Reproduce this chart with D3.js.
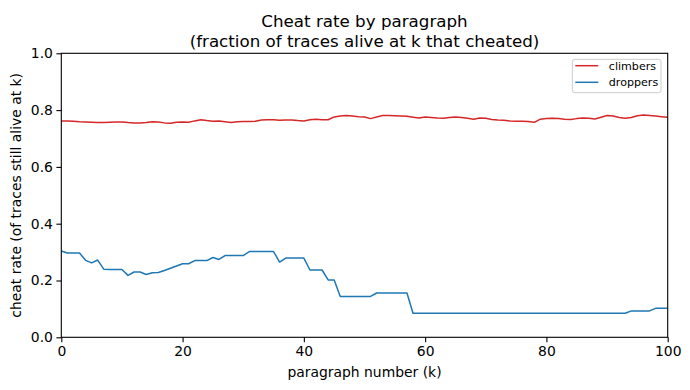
<!DOCTYPE html>
<html>
<head>
<meta charset="utf-8">
<script src="https://cdn.jsdelivr.net/npm/d3@7"></script>
<style>
  body { margin: 0; background: #fff; }
  svg { display: block; }
  text { font-family: "DejaVu Sans", sans-serif; fill: #000; }
</style>
</head>
<body>
<svg id="chart" width="690" height="390"></svg>
<script>
'use strict';

// cheat rate per paragraph k = 0..100
var climbers = [
    0.762, 0.762, 0.761, 0.759, 0.758, 0.757, 0.756, 0.756, 0.757, 0.758,
    0.758, 0.756, 0.755, 0.755, 0.756, 0.759, 0.758, 0.755, 0.754, 0.757,
    0.758, 0.757, 0.762, 0.766, 0.763, 0.761, 0.762, 0.759, 0.756, 0.759,
    0.760, 0.760, 0.761, 0.765, 0.766, 0.766, 0.764, 0.765, 0.765, 0.763,
    0.762, 0.766, 0.768, 0.766, 0.766, 0.776, 0.779, 0.781, 0.779, 0.777,
    0.776, 0.770, 0.776, 0.781, 0.781, 0.780, 0.779, 0.778, 0.775, 0.772,
    0.776, 0.774, 0.772, 0.771, 0.774, 0.776, 0.774, 0.771, 0.768, 0.772,
    0.771, 0.767, 0.765, 0.764, 0.762, 0.761, 0.761, 0.760, 0.757, 0.768,
    0.770, 0.771, 0.770, 0.768, 0.767, 0.770, 0.772, 0.771, 0.769, 0.775,
    0.781, 0.779, 0.774, 0.771, 0.774, 0.780, 0.783, 0.781, 0.779, 0.777,
    0.775
];

var droppers = [
    0.304, 0.297, 0.297, 0.297, 0.271, 0.262, 0.272, 0.240, 0.239, 0.239,
    0.239, 0.218, 0.230, 0.230, 0.221, 0.227, 0.228, 0.235, 0.243, 0.251,
    0.259, 0.259, 0.270, 0.270, 0.270, 0.281, 0.274, 0.288, 0.288, 0.288,
    0.288, 0.302, 0.302, 0.302, 0.302, 0.302, 0.265, 0.279, 0.279, 0.279,
    0.279, 0.237, 0.237, 0.237, 0.202, 0.202, 0.144, 0.144, 0.144, 0.144,
    0.144, 0.144, 0.156, 0.156, 0.156, 0.156, 0.156, 0.156, 0.0845, 0.0845,
    0.0845, 0.0845, 0.0845, 0.0845, 0.0845, 0.0845, 0.0845, 0.0845, 0.0845, 0.0845,
    0.0845, 0.0845, 0.0845, 0.0845, 0.0845, 0.0845, 0.0845, 0.0845, 0.0845, 0.0845,
    0.0845, 0.0845, 0.0845, 0.0845, 0.0845, 0.0845, 0.0845, 0.0845, 0.0845, 0.0845,
    0.0845, 0.0845, 0.0845, 0.0845, 0.093, 0.093, 0.093, 0.093, 0.102, 0.102,
    0.102
];

var seriesNames = ['climbers', 'droppers'];
var seriesColors = ['#d62728', '#1f77b4'];
var xTicks = [0, 20, 40, 60, 80, 100];
var yTicks = [0, 0.2, 0.4, 0.6, 0.8, 1.0];

(function() {
    var plotLeft = 61.3, plotRight = 667.7, plotTop = 53.3, plotBottom = 337.3;

    var svg = d3.select('#chart');

    var x = d3.scaleLinear().domain([0, 100]).range([plotLeft, plotRight]),
        y = d3.scaleLinear().domain([0, 1]).range([plotBottom, plotTop]);

    // lines
    var line = d3.line()
        .x(function(d, i) { return x(i); })
        .y(function(d) { return y(d); });

    var gLines = svg.append('g').attr('class', 'lines');
    [climbers, droppers].forEach(function(vals, i) {
        gLines.append('path')
            .datum(vals)
            .attr('d', line)
            .attr('fill', 'none')
            .attr('stroke', seriesColors[i])
            .attr('stroke-width', 1.5)
            .attr('stroke-linejoin', 'round');
    });

    // axes
    var xAxis = d3.axisBottom(x).tickValues(xTicks).tickSize(4.9).tickPadding(3.5)
        .tickFormat(d3.format('d'));
    var yAxis = d3.axisLeft(y).tickValues(yTicks).tickSize(4.9).tickPadding(3.5)
        .tickFormat(d3.format('.1f'));

    function styleAxis(g) {
        g.select('.domain').remove();
        g.selectAll('.tick line').attr('stroke', '#000').attr('stroke-width', 1.1);
        g.selectAll('.tick text')
            .attr('fill', '#000')
            .style('font-size', '13.9px')
            .style('font-family', '"DejaVu Sans", sans-serif');
    }

    svg.append('g')
        .attr('transform', 'translate(0,' + plotBottom + ')')
        .call(xAxis)
        .call(styleAxis);

    svg.append('g')
        .attr('transform', 'translate(' + plotLeft + ',0)')
        .call(yAxis)
        .call(styleAxis);

    // spines
    svg.append('rect')
        .attr('x', plotLeft).attr('y', plotTop)
        .attr('width', plotRight - plotLeft).attr('height', plotBottom - plotTop)
        .attr('fill', 'none')
        .attr('stroke', '#000')
        .attr('stroke-width', 1.1);

    // title and labels
    var cx = (plotLeft + plotRight) / 2;
    var title = svg.append('text')
        .attr('text-anchor', 'middle')
        .style('font-size', '16.7px');
    title.append('tspan').attr('x', cx).attr('y', 26.5)
        .text('Cheat rate by paragraph');
    title.append('tspan').attr('x', cx).attr('y', 46.5)
        .text('(fraction of traces alive at k that cheated)');

    svg.append('text')
        .attr('x', cx).attr('y', 377)
        .attr('text-anchor', 'middle')
        .style('font-size', '13.9px')
        .text('paragraph number (k)');

    svg.append('text')
        .attr('transform', 'translate(21,' + (plotTop + plotBottom) / 2 + ') rotate(-90)')
        .attr('text-anchor', 'middle')
        .style('font-size', '13.9px')
        .text('cheat rate (of traces still alive at k)');

    // legend
    var legend = svg.append('g').attr('transform', 'translate(572.3,59.3)');
    legend.append('rect')
        .attr('width', 88.7).attr('height', 33.4)
        .attr('rx', 2.5)
        .attr('fill', '#fff').attr('fill-opacity', 0.8)
        .attr('stroke', '#cccccc').attr('stroke-width', 1);

    seriesNames.forEach(function(name, i) {
        var ly = 6.4 + i * 16.6;
        legend.append('line')
            .attr('x1', 3).attr('x2', 26)
            .attr('y1', ly).attr('y2', ly)
            .attr('stroke', seriesColors[i])
            .attr('stroke-width', 1.5);
        legend.append('text')
            .attr('x', 36.5).attr('y', ly + 3.9)
            .style('font-size', '11.1px')
            .text(name);
    });
})();
</script>
</body>
</html>
